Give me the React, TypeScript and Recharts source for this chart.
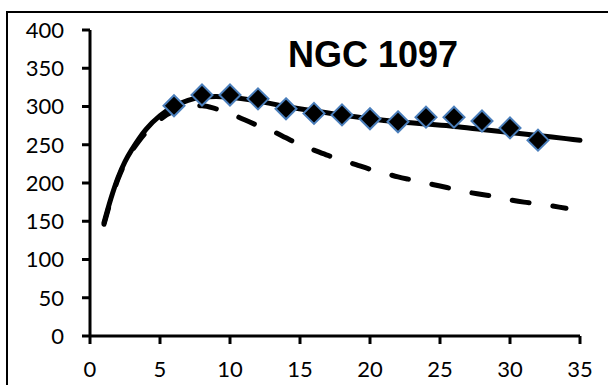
import React from 'react';
import { ComposedChart, Line, XAxis, YAxis } from 'recharts';

// model curve (solid)
const solidX = [1, 1.5, 2, 2.5, 3, 3.5, 4, 5, 6, 7, 8, 9, 10, 12, 14, 16, 18, 20, 22, 24, 26, 28, 30, 32, 34, 35];
const solidY = [148, 180, 207, 228, 244, 258, 270, 288, 300, 308, 312, 313, 312, 307, 300, 294, 289, 284, 280, 277, 274, 270, 266, 262, 258, 256];

// second model curve (dashed)
const dashedX = [1, 1.5, 2, 2.5, 3, 3.5, 4, 5, 6, 7, 8, 9, 10, 11, 12, 13, 14, 15, 16, 17, 18, 19, 20, 21, 22, 23, 24, 25, 26, 27, 28, 29, 30, 31, 32, 33, 34];
const dashedY = [146, 178, 205, 226, 242, 255, 266, 283, 294, 300, 301, 297, 291, 283, 275, 268, 259, 250, 243, 236, 230, 224, 218, 213, 208, 204, 200, 196, 192, 188, 185, 182, 178, 175, 173, 170, 167];

// observed points (diamonds)
const obsX = [6, 8, 10, 12, 14, 16, 18, 20, 22, 24, 26, 28, 30, 32];
const obsY = [301, 315, 315, 310, 297, 291, 289, 284, 280, 286, 286, 281, 272, 256];

const xTicks = [0, 5, 10, 15, 20, 25, 30, 35];
const yTicks = [0, 50, 100, 150, 200, 250, 300, 350, 400];

const title = 'NGC 1097';

const solidData = solidX.map((x, i) => ({ x, v: solidY[i] }));
const dashedData = dashedX.map((x, i) => ({ x, v: dashedY[i] }));
const obsData = obsX.map((x, i) => ({ x, v: obsY[i] }));

const tickStyle = { fontFamily: 'Lato', fontSize: 22, fill: '#000' };

const Diamond = (props: any) => {
  const { cx, cy, index } = props;
  if (cx == null || cy == null) return null;
  const r = 10.5;
  return (
    <polygon
      key={'d' + index}
      points={`${cx},${cy - r} ${cx + r},${cy} ${cx},${cy + r} ${cx - r},${cy}`}
      fill="#000"
      stroke="#4A7EBB"
      strokeWidth={2}
    />
  );
};

export default function App() {
  return (
    <div style={{ position: 'absolute', left: 0, top: 0, width: 608, height: 385, background: '#fff', overflow: 'hidden' }}>
      <div
        style={{
          position: 'absolute',
          left: 6,
          top: 11,
          width: 620,
          height: 400,
          borderTop: '2px solid #000',
          borderLeft: '2px solid #000',
        }}
      />
      <div style={{ position: 'absolute', left: 0, top: 0 }}>
        <ComposedChart width={608} height={385} margin={{ top: 30, right: 28, left: 30, bottom: 18 }}>
          <XAxis
            type="number"
            dataKey="x"
            domain={[0, 35]}
            ticks={xTicks}
            interval={0}
            height={31}
            tick={tickStyle}
            tickSize={8}
            tickMargin={17}
            axisLine={{ stroke: '#000', strokeWidth: 3 }}
            tickLine={{ stroke: '#000', strokeWidth: 3 }}
          />
          <YAxis
            type="number"
            dataKey="v"
            domain={[0, 400]}
            ticks={yTicks}
            interval={0}
            width={60}
            tick={tickStyle}
            tickSize={8}
            tickMargin={18}
            axisLine={{ stroke: '#000', strokeWidth: 3 }}
            tickLine={{ stroke: '#000', strokeWidth: 3 }}
          />
          <Line
            data={dashedData}
            dataKey="v"
            type="monotone"
            stroke="#000"
            strokeWidth={5}
            strokeDasharray="17 24"
            strokeLinecap="round"
            dot={false}
            activeDot={false}
            isAnimationActive={false}
          />
          <Line
            data={solidData}
            dataKey="v"
            type="monotone"
            stroke="#000"
            strokeWidth={5}
            strokeLinecap="round"
            dot={false}
            activeDot={false}
            isAnimationActive={false}
          />
          <Line
            data={obsData}
            dataKey="v"
            stroke="none"
            dot={Diamond}
            activeDot={false}
            isAnimationActive={false}
          />
        </ComposedChart>
      </div>
      <svg width={608} height={385} style={{ position: 'absolute', left: 0, top: 0, pointerEvents: 'none' }}>
        <text
          x={373}
          y={67}
          textAnchor="middle"
          fontFamily="Liberation Sans, Arial"
          fontWeight="bold"
          fontSize={36}
          fill="#000"
        >
          {title}
        </text>
      </svg>
    </div>
  );
}
